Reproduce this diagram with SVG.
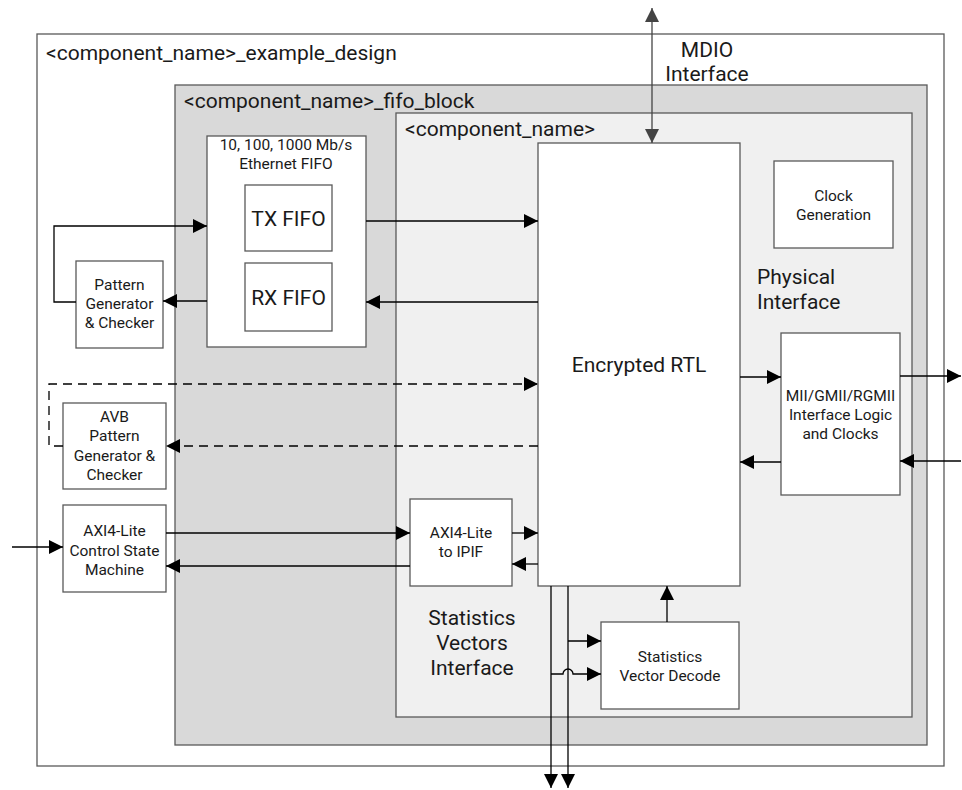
<svg xmlns="http://www.w3.org/2000/svg" width="962" height="790" viewBox="0 0 962 790">
<defs>
<style>
.box{fill:#fff;stroke:#595959;stroke-width:1.3}
.t{font-family:Roboto,"Liberation Sans",sans-serif;fill:#1a1a1a}
.s{font-size:15.5px}
.m{font-size:21px}
.c{text-anchor:middle}
.ln{fill:none;stroke:#000;stroke-width:1.3}
.dash{stroke-dasharray:9,6}
</style>
<marker id="ah" viewBox="0 0 10 10" refX="10" refY="5" markerWidth="14" markerHeight="14" markerUnits="userSpaceOnUse" orient="auto">
<path d="M0,0 L10,5 L0,10 z" fill="#000"/>
</marker>
<marker id="ahg" viewBox="0 0 10 10" refX="10" refY="5" markerWidth="14" markerHeight="14" markerUnits="userSpaceOnUse" orient="auto-start-reverse">
<path d="M0,0 L10,5 L0,10 z" fill="#444"/>
</marker>
</defs>
<rect width="962" height="790" fill="#fff"/>
<g id="example_design">
<rect x="37" y="34" width="907" height="732" class="box"/>
<text x="46" y="60" class="t m">&lt;component_name&gt;_example_design</text>
</g>
<g id="fifo_block">
<rect x="175" y="85" width="752" height="660" class="box" style="fill:#d9d9d9"/>
<text x="184" y="108" class="t m">&lt;component_name&gt;_fifo_block</text>
</g>
<g id="component">
<rect x="396" y="113" width="516" height="604" class="box" style="fill:#f0f0f0"/>
<text x="405" y="136" class="t m">&lt;component_name&gt;</text>
<text x="757" y="284" class="t m">Physical</text>
<text x="757" y="309" class="t m">Interface</text>
<text x="472" y="625" class="t m c">Statistics</text>
<text x="472" y="650" class="t m c">Vectors</text>
<text x="472" y="675" class="t m c">Interface</text>
</g>
<g id="ethernet_fifo">
<rect x="207" y="136" width="159" height="211" class="box"/>
<text x="286" y="150" class="t s c">10, 100, 1000 Mb/s</text>
<text x="286" y="169" class="t s c">Ethernet FIFO</text>
</g>
<g id="tx_fifo">
<rect x="245" y="185" width="87" height="66" class="box"/>
<text x="288.5" y="226" class="t m c">TX FIFO</text>
</g>
<g id="rx_fifo">
<rect x="245" y="263" width="87" height="68" class="box"/>
<text x="288.5" y="305" class="t m c">RX FIFO</text>
</g>
<g id="encrypted_rtl">
<rect x="538" y="143" width="202" height="443" class="box"/>
<text x="639" y="372" class="t m c">Encrypted RTL</text>
</g>
<g id="clock_gen">
<rect x="774" y="161" width="119" height="87" class="box"/>
<text x="833.5" y="201" class="t s c">Clock</text>
<text x="833.5" y="220" class="t s c">Generation</text>
</g>
<g id="mii">
<rect x="781" y="333" width="119" height="162" class="box"/>
<text x="840.5" y="401" class="t s c">MII/GMII/RGMII</text>
<text x="840.5" y="420" class="t s c">Interface Logic</text>
<text x="840.5" y="439" class="t s c">and Clocks</text>
</g>
<g id="pattern_gen">
<rect x="76" y="261" width="87" height="87" class="box"/>
<text x="119.5" y="290" class="t s c">Pattern</text>
<text x="119.5" y="309" class="t s c">Generator</text>
<text x="119.5" y="328" class="t s c">&amp; Checker</text>
</g>
<g id="avb_pattern_gen">
<rect x="63" y="403" width="103" height="86" class="box"/>
<text x="114.5" y="422" class="t s c">AVB</text>
<text x="114.5" y="441" class="t s c">Pattern</text>
<text x="114.5" y="461" class="t s c">Generator &amp;</text>
<text x="114.5" y="480" class="t s c">Checker</text>
</g>
<g id="axi_control">
<rect x="63" y="505" width="103" height="87" class="box"/>
<text x="114.5" y="536" class="t s c">AXI4-Lite</text>
<text x="114.5" y="556" class="t s c">Control State</text>
<text x="114.5" y="575" class="t s c">Machine</text>
</g>
<g id="axi_ipif">
<rect x="410" y="499" width="102" height="87" class="box"/>
<text x="461" y="538" class="t s c">AXI4-Lite</text>
<text x="461" y="557" class="t s c">to IPIF</text>
</g>
<g id="stats_decode">
<rect x="601" y="622" width="138" height="87" class="box"/>
<text x="670" y="662" class="t s c">Statistics</text>
<text x="670" y="681" class="t s c">Vector Decode</text>
</g>
<g id="mdio_label">
<text x="707" y="57" class="t m c">MDIO</text>
<text x="707" y="81" class="t m c">Interface</text>
</g>
<g id="connectors">
<path d="M652,143 V8" class="ln" style="stroke:#444" marker-start="url(#ahg)" marker-end="url(#ahg)"/>
<path d="M76,302 H54 V226 H207" class="ln" marker-end="url(#ah)"/>
<path d="M207,301 H163" class="ln" marker-end="url(#ah)"/>
<path d="M366,221 H538" class="ln" marker-end="url(#ah)"/>
<path d="M538,302 H366" class="ln" marker-end="url(#ah)"/>
<path d="M63,446 H49 V384 H538" class="ln dash" marker-end="url(#ah)"/>
<path d="M538,446 H166" class="ln dash" marker-end="url(#ah)"/>
<path d="M740,377 H781" class="ln" marker-end="url(#ah)"/>
<path d="M781,462 H740" class="ln" marker-end="url(#ah)"/>
<path d="M900,376 H961" class="ln" marker-end="url(#ah)"/>
<path d="M961,461 H900" class="ln" marker-end="url(#ah)"/>
<path d="M12,547 H63" class="ln" marker-end="url(#ah)"/>
<path d="M166,533 H410" class="ln" marker-end="url(#ah)"/>
<path d="M410,566 H166" class="ln" marker-end="url(#ah)"/>
<path d="M512,533 H538" class="ln" marker-end="url(#ah)"/>
<path d="M538,564 H512" class="ln" marker-end="url(#ah)"/>
<path d="M551,586 V788" class="ln" marker-end="url(#ah)"/>
<path d="M568,586 V788" class="ln" marker-end="url(#ah)"/>
<path d="M568,641 H601" class="ln" marker-end="url(#ah)"/>
<path d="M551,674 H563 A5,5 0 0 1 573,674 H601" class="ln" marker-end="url(#ah)"/>
<path d="M667,622 V586" class="ln" marker-end="url(#ah)"/>
</g>
</svg>
